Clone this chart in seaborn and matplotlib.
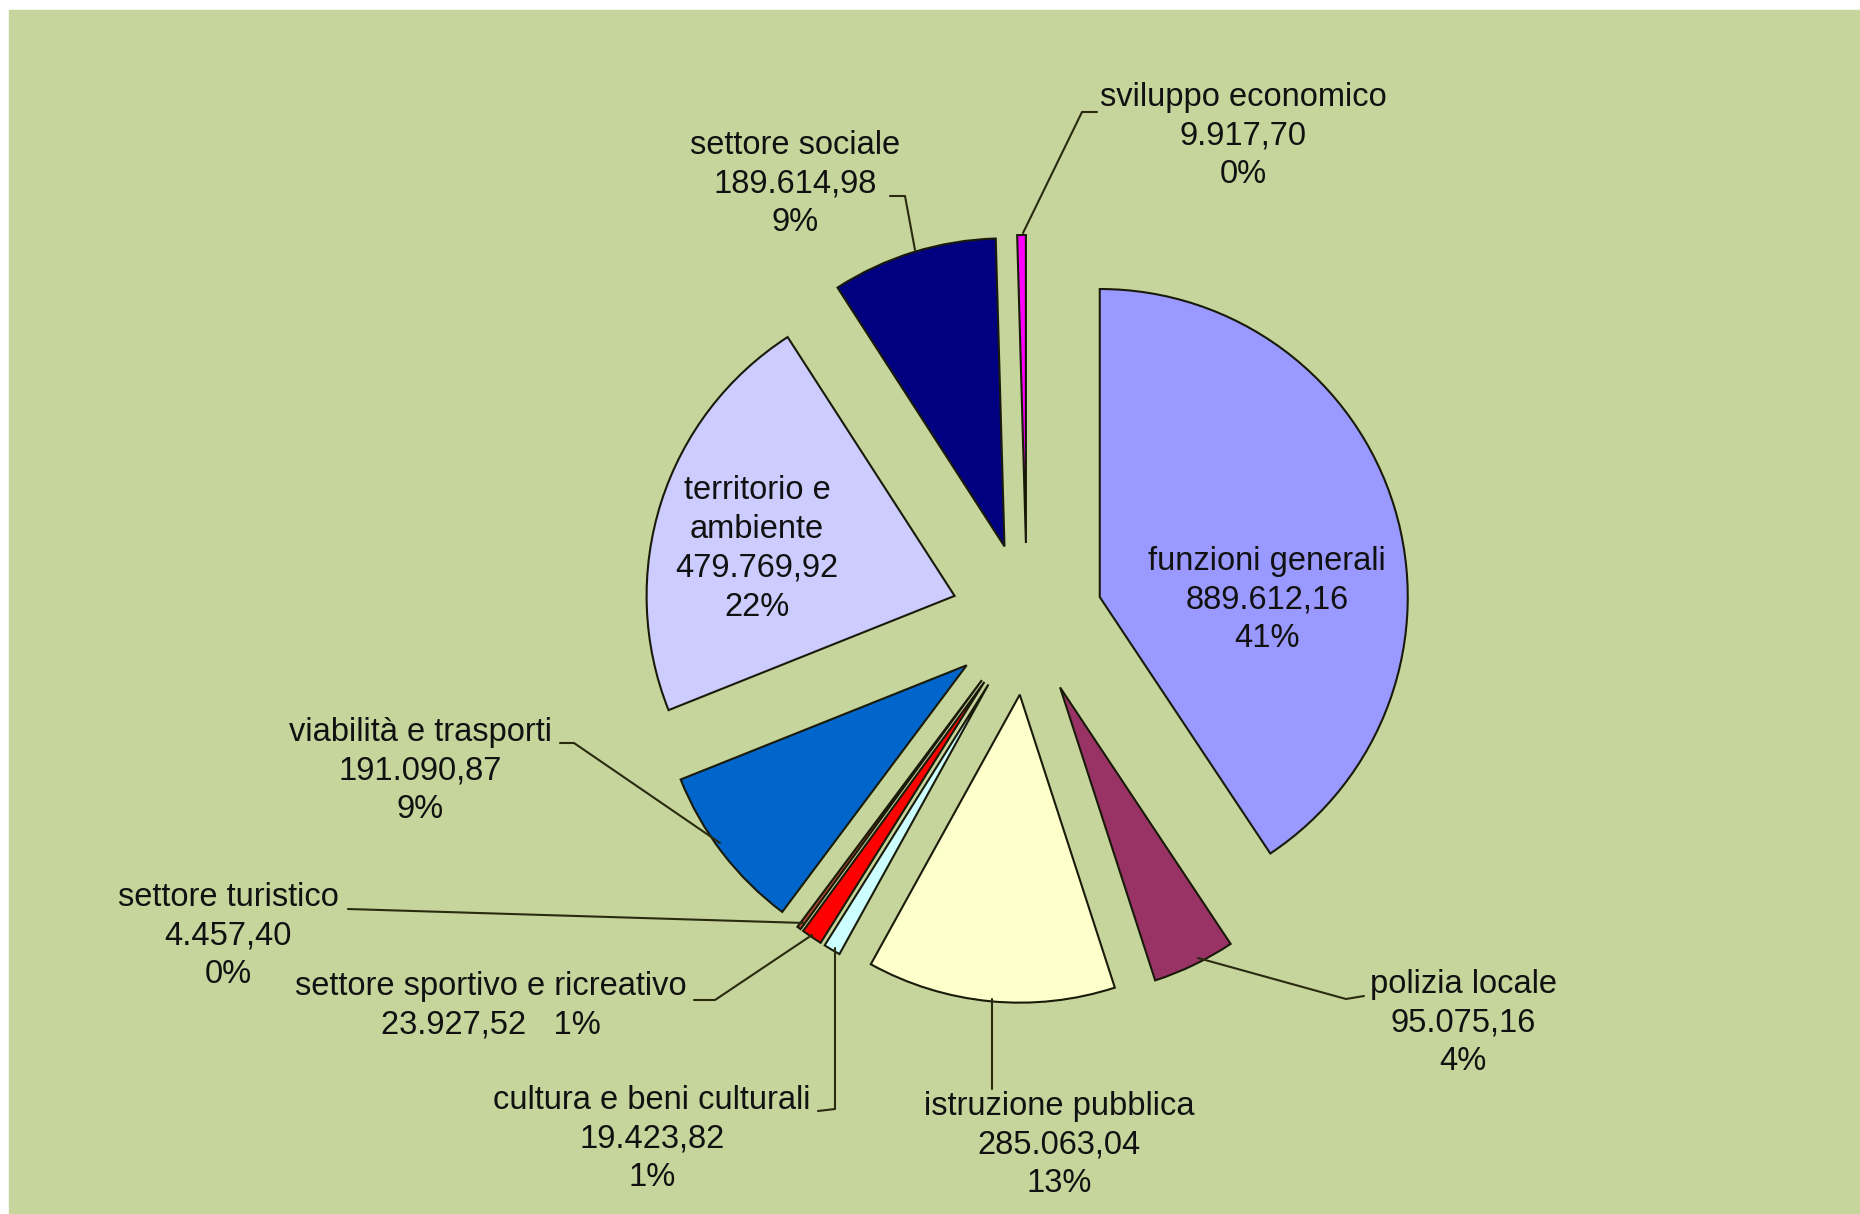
import matplotlib
matplotlib.use("Agg")
import matplotlib.pyplot as plt
import seaborn as sns

# data, clockwise from 12 o'clock
categories = ["funzioni generali", "polizia locale", "istruzione pubblica",
              "cultura e beni culturali", "settore sportivo e ricreativo",
              "settore turistico", "viabilità e trasporti", "territorio e ambiente",
              "settore sociale", "sviluppo economico"]
values = [889612.16, 95075.16, 285063.04, 19423.82, 23927.52,
          4457.40, 191090.87, 479769.92, 189614.98, 9917.70]
colors = ["#9999FF", "#993366", "#FFFFCC", "#CCFFFF", "#FF0000",
          "#B0482A", "#0066CC", "#CCCCFF", "#000080", "#FF00FF"]

W, H = 1860, 1214


def Y(y):
    # pixel row (top-down) -> data y (bottom-up)
    return H - y


def ita(v):
    s = f"{v:,.2f}"
    return s.replace(",", "#").replace(".", ",").replace("#", ".")


sns.set_theme(style="white")
plt.rcParams["font.family"] = ["Liberation Sans", "DejaVu Sans"]

fig = plt.figure(figsize=(W / 100, H / 100), dpi=100, facecolor="white")
ax = fig.add_axes([9 / W, 0, (W - 9) / W, (H - 10) / H])
ax.set_facecolor("#C6D59C")

cx, cy, R, expl = 1027, Y(619), 308, 76
ax.pie(values, explode=[expl] * len(values), startangle=90, counterclock=False,
       colors=colors, center=(cx, cy), radius=R,
       wedgeprops=dict(edgecolor="#1a1a0a", linewidth=1.5))

ax.set_xlim(9, W)
ax.set_ylim(0, H - 10)
ax.set_aspect("equal")
ax.axis("off")
fig.patches.append(plt.Rectangle((9 / W, 0), (W - 9) / W, (H - 10) / H,
                                 transform=fig.transFigure, color="#C6D59C", zorder=-1))

total = sum(values)
pcts = [round(v / total * 100) for v in values]

# label centres (pixel coords) and leader lines
label_pos = {
    "funzioni generali": (1267, 600),
    "polizia locale": (1463, 1023),
    "istruzione pubblica": (1059, 1145),
    "cultura e beni culturali": (652, 1139),
    "settore sportivo e ricreativo": (491, 1006),
    "settore turistico": (228, 936),
    "viabilità e trasporti": (420, 771),
    "territorio e ambiente": (757, 549),
    "settore sociale": (795, 184),
    "sviluppo economico": (1243, 136),
}
leaders = {
    "polizia locale": [(1364, 996), (1346, 999), (1198, 958)],
    "istruzione pubblica": [(992, 1089), (992, 999)],
    "cultura e beni culturali": [(818, 1111), (835, 1109), (835, 948)],
    "settore sportivo e ricreativo": [(694, 1000), (715, 1000), (812, 935)],
    "settore turistico": [(348, 909), (805, 923)],
    "viabilità e trasporti": [(560, 743), (574, 743), (720, 843)],
    "settore sociale": [(890, 196), (905, 196), (915, 250)],
    "sviluppo economico": [(1097, 112), (1082, 112), (1023, 233)],
}

for name, v, p in zip(categories, values, pcts):
    title = name.replace("territorio e ", "territorio e\n")
    if name == "settore sportivo e ricreativo":
        txt = f"{title}\n{ita(v)}   {p}%"
    else:
        txt = f"{title}\n{ita(v)}\n{p}%"
    x, y = label_pos[name]
    ax.text(x, Y(y), txt, ha="center", va="center", fontsize=23.5,
            color="#111111", linespacing=1.32, zorder=5)
    if name in leaders:
        pts = leaders[name]
        ax.plot([q[0] for q in pts], [Y(q[1]) for q in pts],
                color="#2a2a10", lw=1.5, zorder=4)

fig.savefig("out.png", dpi=100, facecolor="white")
